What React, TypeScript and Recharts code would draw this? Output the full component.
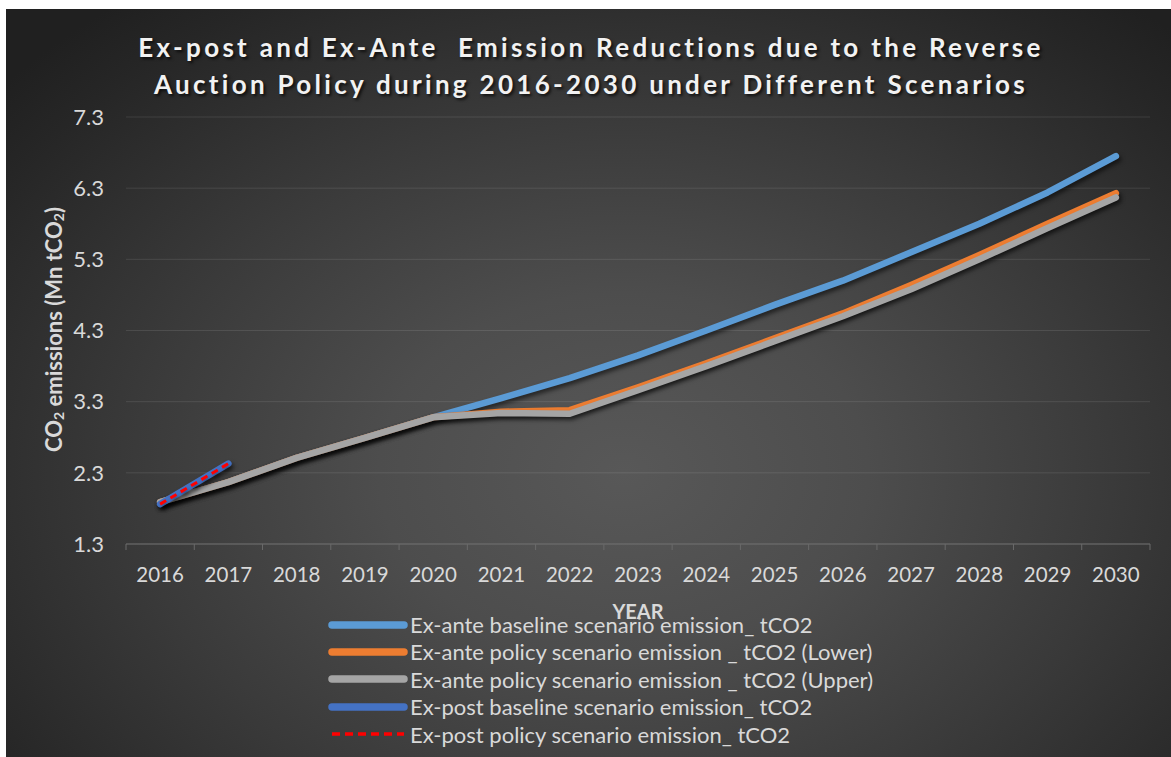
import { CartesianGrid, Legend, Line, LineChart, XAxis, YAxis } from "recharts"

const years = ["2016", "2017", "2018", "2019", "2020", "2021", "2022", "2023", "2024", "2025", "2026", "2027", "2028", "2029", "2030"]
const exAnteBaseline = [1.89, 2.17, 2.51, 2.79, 3.08, 3.35, 3.63, 3.95, 4.3, 4.66, 5.0, 5.4, 5.8, 6.24, 6.75]
const exAntePolicyLower = [1.89, 2.17, 2.51, 2.79, 3.08, 3.16, 3.18, 3.5, 3.84, 4.19, 4.54, 4.94, 5.36, 5.8, 6.23]
const exAntePolicyUpper = [1.89, 2.17, 2.51, 2.79, 3.08, 3.14, 3.13, 3.46, 3.8, 4.15, 4.5, 4.88, 5.3, 5.74, 6.17]
const exPostBaseline = [1.86, 2.43]
const exPostPolicy = [1.86, 2.43]
const yTicks = [1.3, 2.3, 3.3, 4.3, 5.3, 6.3, 7.3]

const data = years.map((year, i) => ({
  year,
  baseline: exAnteBaseline[i],
  lower: exAntePolicyLower[i],
  upper: exAntePolicyUpper[i],
  postBaseline: exPostBaseline[i] ?? null,
  postPolicy: exPostPolicy[i] ?? null,
}))

const legendItems = [
  { label: "Ex-ante baseline scenario emission_ tCO2", color: "#5B9BD5", dashed: false },
  { label: "Ex-ante policy scenario emission _ tCO2 (Lower)", color: "#ED7D31", dashed: false },
  { label: "Ex-ante policy scenario emission _ tCO2 (Upper)", color: "#A5A5A5", dashed: false },
  { label: "Ex-post baseline scenario emission_ tCO2", color: "#4472C4", dashed: false },
  { label: "Ex-post policy scenario emission_ tCO2", color: "#FF0000", dashed: true },
]

const FONT = "Lato, 'Open Sans', sans-serif"
const TEXT = "#d9d9d9"

function YearTick(props: any) {
  const { x, y, payload, index, visibleTicksCount } = props
  const half = payload?.offset ?? 34.13
  const axisY = y - 8
  return (
    <g>
      <line x1={x - half} y1={axisY} x2={x - half} y2={axisY + 6} stroke="#6a6a6a" />
      {index === visibleTicksCount - 1 && (
        <line x1={x + half} y1={axisY} x2={x + half} y2={axisY + 6} stroke="#6a6a6a" />
      )}
      <text x={x} y={y + 30} textAnchor="middle" fill={TEXT} fontSize={20.5} fontFamily={FONT}>
        {payload.value}
      </text>
    </g>
  )
}

function YTitle(props: any) {
  const vb = props.viewBox
  const cx = 47
  const cy = vb.y + vb.height / 2 - 1
  return (
    <text
      x={cx}
      y={cy}
      transform={`rotate(-90 ${cx} ${cy})`}
      textAnchor="middle"
      dominantBaseline="central"
      fill={TEXT}
      fontSize={22}
      fontWeight="bold"
      fontFamily={FONT}
    >
      CO<tspan fontSize={14} dy={5}>2</tspan>
      <tspan dy={-5}> emissions (Mn tCO</tspan>
      <tspan fontSize={14} dy={5}>2</tspan>
      <tspan dy={-5}>)</tspan>
    </text>
  )
}

function LegendBox() {
  return (
    <div style={{ fontFamily: FONT, fontSize: 22, color: TEXT, lineHeight: "27.4px" }}>
      {legendItems.map((item) => (
        <div key={item.label} style={{ display: "flex", alignItems: "center", height: 27.4, whiteSpace: "nowrap" }}>
          <svg width={80} height={12} style={{ marginRight: 2 }}>
            {item.dashed ? (
              <line x1={4} y1={6} x2={76} y2={6} stroke={item.color} strokeWidth={3.5} strokeDasharray="8 5" />
            ) : (
              <line x1={4} y1={6} x2={76} y2={6} stroke={item.color} strokeWidth={7.5} strokeLinecap="round" />
            )}
          </svg>
          <span>{item.label}</span>
        </div>
      ))}
    </div>
  )
}

export default function App() {
  return (
    <div
      style={{
        position: "absolute",
        left: 6,
        top: 9,
        width: 1165,
        height: 748,
        background:
          "radial-gradient(ellipse 70% 80% at 53% 62%, #585858 0%, #4d4d4d 30%, #3a3a3a 60%, #262626 90%, #202020 100%)",
        overflow: "hidden",
      }}
    >
      <style>{`.recharts-line-curve { filter: drop-shadow(2px 3px 2px rgba(0,0,0,0.55)); }`}</style>
      <div
        style={{
          position: "absolute",
          top: 20,
          left: 0,
          width: 1170,
          textAlign: "center",
          fontFamily: FONT,
          fontWeight: "bold",
          fontSize: 26,
          letterSpacing: 3.3,
          lineHeight: "37px",
          color: "#f2f2f2",
          textShadow: "2px 2px 3px rgba(0,0,0,0.7)",
          zIndex: 2,
        }}
      >
        Ex-post and Ex-Ante&nbsp; Emission Reductions due to the Reverse
        <br />
        Auction Policy during 2016-2030 under Different Scenarios
      </div>
      <LineChart width={1165} height={748} data={data} margin={{ top: 108, right: 21, left: 0, bottom: 140 }}>
        <CartesianGrid vertical={false} stroke="rgba(255,255,255,0.1)" />
        <XAxis
          dataKey="year"
          scale="band"
          height={73}
          stroke="#6a6a6a"
          tickLine={false}
          tick={<YearTick />}
          interval={0}
          label={{ value: "YEAR", position: "insideBottom", offset: -2, fill: TEXT, fontSize: 20, fontWeight: "bold", fontFamily: FONT }}
        />
        <YAxis
          width={120}
          domain={[1.3, 7.3]}
          ticks={yTicks}
          axisLine={false}
          tickLine={false}
          tickMargin={16}
          tick={{ fill: TEXT, fontSize: 22, fontFamily: FONT }}
          tickFormatter={(v) => v.toFixed(1)}
          label={<YTitle />}
        />
        <Legend
          layout="vertical"
          align="center"
          verticalAlign="middle"
          wrapperStyle={{ top: 602, left: 322, width: "auto" }}
          content={() => <LegendBox />}
        />
        <Line dataKey="baseline" stroke="#5B9BD5" strokeWidth={6.5} dot={false} type="linear" strokeLinecap="round" strokeLinejoin="round" isAnimationActive={false} />
        <Line dataKey="lower" stroke="#ED7D31" strokeWidth={6.5} dot={false} type="linear" strokeLinecap="round" strokeLinejoin="round" isAnimationActive={false} />
        <Line dataKey="upper" stroke="#A5A5A5" strokeWidth={6.5} dot={false} type="linear" strokeLinecap="round" strokeLinejoin="round" isAnimationActive={false} />
        <Line dataKey="postBaseline" stroke="#4472C4" strokeWidth={6.5} dot={false} type="linear" strokeLinecap="round" isAnimationActive={false} />
        <Line dataKey="postPolicy" stroke="#FF0000" strokeWidth={3} strokeDasharray="7 5" dot={false} type="linear" isAnimationActive={false} />
      </LineChart>
    </div>
  )
}
